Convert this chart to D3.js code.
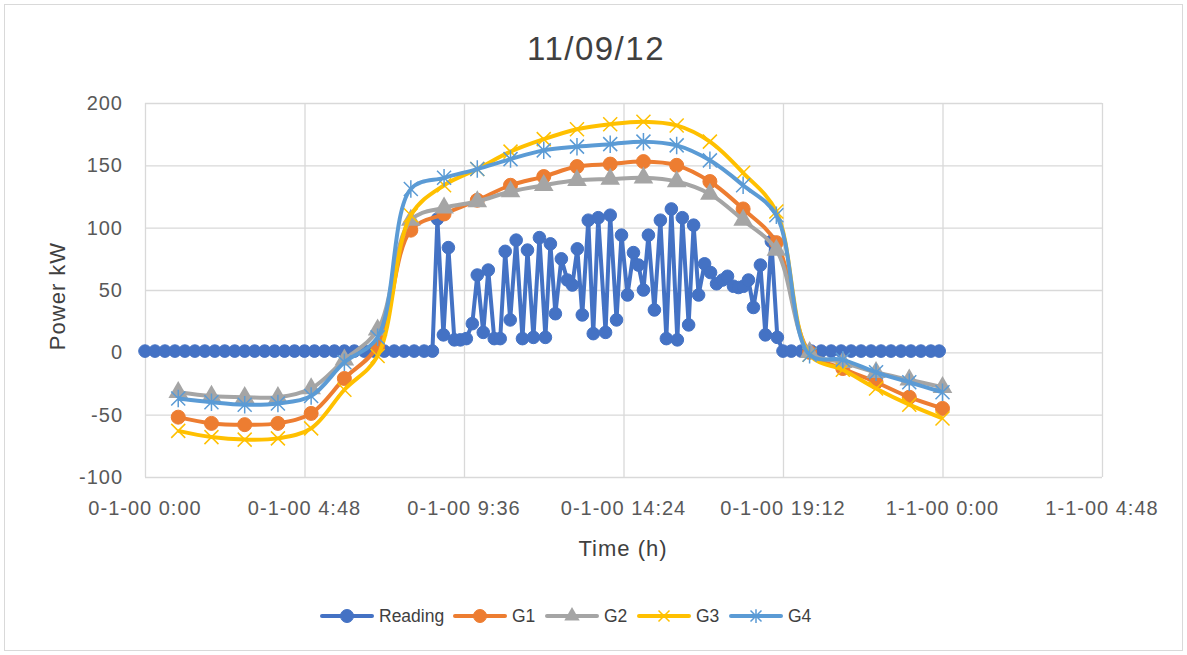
<!DOCTYPE html>
<meta charset="utf-8">
<script src="https://d3js.org/d3.v7.min.js"></script>
<style type="text/css">
body { margin: 0; background: #fff; }
svg { font-family: "Liberation Sans", "DejaVu Sans", sans-serif; }
.grid line { stroke: #d9d9d9; stroke-width: 1.3px; }
.grid path { display: none; }
.tickText { font-size: 20px; fill: #595959; letter-spacing: 1px; }
.legText { font-size: 17.5px; fill: #404040; }
</style>
<body></body>
<script>

// hours of the day for G series
var gHours = [1,2,3,4,5,6,7,8,9,10,11,12,13,14,15,16,17,18,19,20,21,22,23,24];
var g1 = [-52,-57,-58,-57,-49,-21,5,98,111,122,134,141,149,151,153,150,137,115,88,0,-13,-24,-36,-45];
var g2 = [-32,-35,-36,-36,-29,-6,18,106,116,121,129,134,138,139,140,137,127,106,82,0,-8,-16,-22,-28];
var g3 = [-63,-68,-70,-69,-61,-30,-3,110,134,147,161,171,179,183,185,182,169,144,113,-2,-14,-29,-42,-53];
var g4 = [-37,-40,-42,-41,-35,-8,12,131,140,147,155,162,165,167,169,166,154,134,110,-2,-6,-16,-24,-32];

// reading series (time in hours, power in kW)
var readingTime = [0,0.3,0.6,0.9,1.2,1.5,1.8,2.1,2.4,2.7,3.0,3.3,3.6,3.9,4.2,4.5,4.8,5.1,5.4,5.7,6.0,6.3,6.6,6.9,7.2,7.5,7.8,8.1,8.4,8.65,
  8.8,8.98,9.13,9.31,9.49,9.67,9.85,10.0,10.18,10.33,10.51,10.69,10.84,10.99,11.17,11.36,11.51,11.69,11.87,12.05,
  12.2,12.35,12.53,12.71,12.86,13.01,13.16,13.34,13.49,13.64,13.86,14.0,14.19,14.34,14.52,14.7,14.85,15.0,15.15,15.33,
  15.51,15.69,15.84,16.02,16.17,16.36,16.51,16.66,16.84,17.02,17.2,17.38,17.53,17.71,17.86,18.01,18.16,18.31,18.52,18.67,18.85,19.03,19.2,
  19.45,19.75,20.05,20.35,20.65,20.95,21.25,21.55,21.85,22.15,22.45,22.75,23.05,23.35,23.65,23.9];
var readingValue = [1,1,1,1,1,1,1,1,1,1,1,1,1,1,1,1,1,1,1,1,1,1,1,1,1,1,1,1,1,1,
  107,14,84,10,10,11,23,62,16,66,11,11,81,26,90,11,82,12,92,12,
  87,31,75,58,54,83,30,106,15,108,16,110,26,94,46,80,70,50,94,34,
  106,11,115,10,108,22,102,46,71,64,55,58,61,53,52,53,58,36,70,14,89,12,1,
  1,1,1,1,1,1,1,1,1,1,1,1,1,1,1,1];

var yTicks = [-100,-50,0,50,100,150,200];
var xTickHours = [0,4.8,9.6,14.4,19.2,24,28.8];
var xTickLabels = ["0-1-00 0:00","0-1-00 4:48","0-1-00 9:36","0-1-00 14:24","0-1-00 19:12","1-1-00 0:00","1-1-00 4:48"];

var series = [
  {name: "Reading", color: "#4472C4", marker: "circle", smooth: false},
  {name: "G1", color: "#ED7D31", marker: "circle", smooth: true, values: g1},
  {name: "G2", color: "#A5A5A5", marker: "triangle", smooth: true, values: g2},
  {name: "G3", color: "#FFC000", marker: "x", smooth: true, values: g3},
  {name: "G4", color: "#5B9BD5", marker: "star", smooth: true, values: g4}
];

var W = 1187, H = 655;
var plot = {left: 145, right: 1102, top: 103, bottom: 477};

var svg = d3.select("body").append("svg")
  .attr("width", W)
  .attr("height", H);

svg.append("rect")
  .attr("x", 4.5).attr("y", 4.5)
  .attr("width", W - 9).attr("height", H - 9)
  .attr("fill", "#fff").attr("stroke", "#d9d9d9");

var xScale = d3.scaleLinear().domain([0, 28.8]).range([plot.left, plot.right]);
var yScale = d3.scaleLinear().domain([-100, 200]).range([plot.bottom, plot.top]);

// gridlines
svg.append("g").attr("class", "grid")
  .attr("transform", "translate(0," + plot.bottom + ")")
  .call(d3.axisBottom(xScale).tickValues(xTickHours).tickSize(-(plot.bottom - plot.top)).tickFormat(""));
svg.append("g").attr("class", "grid")
  .attr("transform", "translate(" + plot.left + ",0)")
  .call(d3.axisLeft(yScale).tickValues(yTicks).tickSize(-(plot.right - plot.left)).tickFormat(""));

// tick labels
svg.selectAll(".yLab").data(yTicks).enter().append("text")
  .attr("class", "tickText")
  .attr("x", plot.left - 22)
  .attr("y", function(d) { return yScale(d) + 7; })
  .attr("text-anchor", "end")
  .text(function(d) { return d; });

svg.selectAll(".xLab").data(xTickHours).enter().append("text")
  .attr("class", "tickText")
  .attr("x", function(d) { return xScale(d); })
  .attr("y", plot.bottom + 38)
  .attr("text-anchor", "middle")
  .text(function(d, i) { return xTickLabels[i]; });

// titles
svg.append("text").attr("x", 596).attr("y", 60).attr("text-anchor", "middle")
  .style("font-size", "33px").style("letter-spacing", "1.5px").style("fill", "#404040").text("11/09/12");
svg.append("text").attr("x", 623).attr("y", 556).attr("text-anchor", "middle")
  .style("font-size", "22px").style("letter-spacing", "1px").style("fill", "#404040").text("Time (h)");
svg.append("text").attr("transform", "translate(65,296) rotate(-90)").attr("text-anchor", "middle")
  .style("font-size", "22px").style("letter-spacing", "1px").style("fill", "#404040").text("Power kW");

function drawMarker(g, type, color, size) {
  if (type == "circle") {
    g.append("circle").attr("r", size).attr("fill", color).attr("stroke", color);
  } else if (type == "triangle") {
    g.append("path").attr("d", d3.symbol().type(d3.symbolTriangle).size(size * size * 3.4)())
      .attr("fill", color);
  } else if (type == "x") {
    var s = size;
    g.append("path").attr("d", "M" + -s + "," + -s + "L" + s + "," + s + "M" + -s + "," + s + "L" + s + "," + -s)
      .attr("stroke", color).attr("stroke-width", 1.5);
  } else if (type == "star") {
    var s = size;
    g.append("path").attr("d", "M" + -s + "," + -s + "L" + s + "," + s + "M" + -s + "," + s + "L" + s + "," + -s + "M0," + (-s * 1.25) + "L0," + (s * 1.25))
      .attr("stroke", color).attr("stroke-width", 1.5);
  }
}

var plotG = svg.append("g");

series.forEach(function(s) {
  var pts;
  if (s.values) {
    pts = gHours.map(function(h, i) { return [h, s.values[i]]; });
  } else {
    pts = readingTime.map(function(t, i) { return [t, readingValue[i]]; });
  }
  var line = d3.line()
    .x(function(d) { return xScale(d[0]); })
    .y(function(d) { return yScale(d[1]); })
    .curve(s.smooth ? d3.curveCatmullRom.alpha(0.5) : d3.curveLinear);

  plotG.append("path")
    .datum(pts)
    .attr("d", line)
    .attr("fill", "none")
    .attr("stroke", s.color)
    .attr("stroke-width", 4)
    .attr("stroke-linejoin", "round");

  var msize = s.marker == "circle" ? (s.smooth ? 7 : 6.3) : 7;
  plotG.selectAll(".m" + s.name).data(pts).enter().append("g")
    .attr("transform", function(d) { return "translate(" + xScale(d[0]) + "," + yScale(d[1]) + ")"; })
    .each(function() { drawMarker(d3.select(this), s.marker, s.color, msize); });
});

// legend
var legendX = [322, 455, 547, 639, 731];
var legend = svg.selectAll(".legend").data(series).enter().append("g")
  .attr("transform", function(d, i) { return "translate(" + legendX[i] + ",616)"; });
legend.append("line").attr("x1", 0).attr("x2", 50).attr("y1", 0).attr("y2", 0)
  .attr("stroke", function(d) { return d.color; }).attr("stroke-width", 4).attr("stroke-linecap", "round");
legend.each(function(d) {
  var g = d3.select(this).append("g").attr("transform", "translate(25,0)");
  drawMarker(g, d.marker, d.color, d.marker == "circle" ? 6.5 : 5.5);
});
legend.append("text").attr("x", 57).attr("y", 6)
  .attr("class", "legText")
  .text(function(d) { return d.name; });

</script>
